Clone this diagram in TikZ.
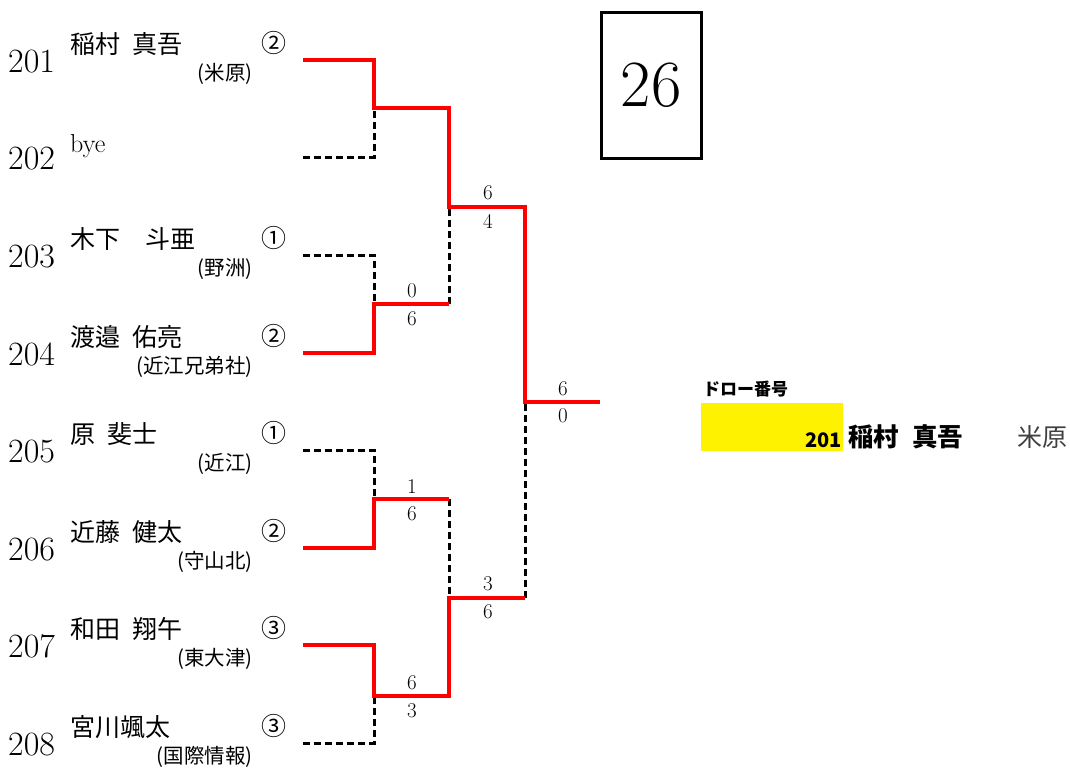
\documentclass[tikz,border=0pt]{standalone}
\usepackage{fontspec}
\newfontfamily\jp[WordSpace=2.2]{Noto Sans CJK JP}
\tikzset{
  num/.style={anchor=base west, inner sep=0, font=\fontsize{34}{34}\selectfont},
  pname/.style={anchor=base west, inner sep=0, font=\jp\fontsize{25}{25}\selectfont},
  club/.style={anchor=base east, inner sep=0, font=\jp\fontsize{20.5}{20.5}\selectfont},
  seed/.style={anchor=base west, inner sep=0, font=\jp\fontsize{25}{25}\selectfont},
  score/.style={inner sep=0, font=\fontsize{21}{21}\selectfont},
  win/.style={draw=red, line width=4},
  lose/.style={draw=black, line width=3, dash pattern=on 7 off 4},
}
\begin{document}
\begin{tikzpicture}[x=1pt,y=-1pt]
\useasboundingbox (0,0) rectangle (1070,769);
% rows
\foreach \i/\y in {1/60,2/157,3/255,4/353,5/450,6/548,7/645,8/743}{
  \coordinate (p\i) at (303,\y);
}
\node[num] (n1) at (8,72) {201};
\node[num] (n2) at (8,169) {202};
\node[num] (n3) at (8,267) {203};
\node[num] (n4) at (8,365) {204};
\node[num] (n5) at (8,462) {205};
\node[num] (n6) at (8,560) {206};
\node[num] (n7) at (8,657) {207};
\node[num] (n8) at (8,755) {208};

\node[pname] (t1) at (70,53) {稲村 真吾};
\node[anchor=base west, inner sep=0, font=\fontsize{26}{26}\selectfont] (t2) at (70,152) {bye};
\node[pname] (t3) at (70,248) {木下　斗亜};
\node[pname] (t4) at (70,346) {渡邉 佑亮};
\node[pname] (t5) at (70,443) {原 斐士};
\node[pname] (t6) at (70,541) {近藤 健太};
\node[pname] (t7) at (70,638) {和田 翔午};
\node[pname] (t8) at (70,736) {宮川颯太};

\node[club] (c1) at (253,80) {(米原)};
\node[club] (c3) at (253,275) {(野洲)};
\node[club] (c4) at (253,373) {(近江兄弟社)};
\node[club] (c5) at (253,470) {(近江)};
\node[club] (c6) at (253,568) {(守山北)};
\node[club] (c7) at (253,665) {(東大津)};
\node[club] (c8) at (253,763) {(国際情報)};

\node[seed] (s1) at (261,52) {②};
\node[seed] (s3) at (261,247) {①};
\node[seed] (s4) at (261,345) {②};
\node[seed] (s5) at (261,442) {①};
\node[seed] (s6) at (261,540) {②};
\node[seed] (s7) at (261,637) {③};
\node[seed] (s8) at (261,735) {③};

% bracket junctions
\coordinate (a1) at (374,108);
\coordinate (a2) at (374,304);
\coordinate (a3) at (374,499);
\coordinate (a4) at (374,696);
\coordinate (b1) at (449,207);
\coordinate (b2) at (449,598);
\coordinate (c) at (525,402);
\coordinate (w) at (600,402);

% losers (dashed)
\draw[lose] (p2) -| (a1);
\draw[lose] (p3) -| (a2);
\draw[lose] (p5) -| (a3);
\draw[lose] (p8) -| (a4);
\draw[lose] (a2 -| b1) -- (b1);
\draw[lose] (a3 -| b2) -- (b2);
\draw[lose] (b2 -| c) -- (c);

% winners (red)
\draw[win] (p1) -| (a1) -| (b1) -| (c) -- (w);
\draw[win] (p4) -| (a2) -- (a2 -| b1);
\draw[win] (p6) -| (a3) -- (a3 -| b2);
\draw[win] (p7) -| (a4) -| (b2) -- (b2 -| c);

% scores
\node[score] (sc2a) at (412,291) {0};
\node[score] (sc2b) at (412,319) {6};
\node[score] (sc3a) at (412,487) {1};
\node[score] (sc3b) at (412,514) {6};
\node[score] (sc4a) at (412,683) {6};
\node[score] (sc4b) at (412,711) {3};
\node[score] (sb1a) at (488,193) {6};
\node[score] (sb1b) at (488,221) {4};
\node[score] (sb2a) at (488,584) {3};
\node[score] (sb2b) at (488,612) {6};
\node[score] (sfa) at (563,389) {6};
\node[score] (sfb) at (563,416) {0};

% draw number box
\node[draw, line width=3, minimum width=100, minimum height=146, inner sep=0,
      font=\fontsize{66}{66}\selectfont] (box) at (651,85) {26};

% winner panel
\fill[yellow] (701,403) rectangle (843,451);
\node[anchor=base west, inner sep=0, font=\jp\bfseries\fontsize{17}{17}\selectfont] (dl) at (703,395) {ドロー番号};
\node[anchor=base east, inner sep=0, font=\jp\bfseries\fontsize{20}{20}\selectfont] (wn) at (842,447) {201};
\node[anchor=base west, inner sep=0, font=\jp\bfseries\fontsize{25.5}{25.5}\selectfont] (wname) at (848,446) {稲村 真吾};
\node[anchor=base west, inner sep=0, text=black!75, font=\jp\fontsize{25}{25}\selectfont] (wclub) at (1017,446) {米原};
\end{tikzpicture}
\end{document}
